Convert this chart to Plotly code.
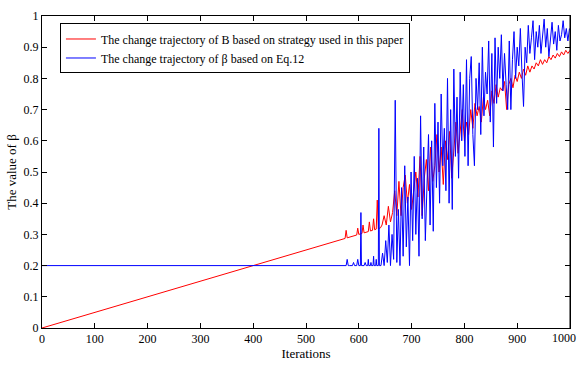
import plotly.graph_objects as go

# Red series: straight early part (endpoints + spikes), then noisy part every 4 iterations
red_x_early = [0, 574, 576, 578, 596, 598, 600, 606, 608, 610, 618, 620, 622, 626, 628, 630, 633, 635, 637, 641]
red_y_early = [0, 0.287, 0.313, 0.289, 0.298, 0.32, 0.30, 0.303, 0.33, 0.305, 0.309, 0.34, 0.311,
               0.313, 0.35, 0.315, 0.317, 0.41, 0.318, 0.321]
red_start, red_step = 644, 4
red_y_noisy = [
    0.33, 0.36, 0.33, 0.39, 0.34, 0.37, 0.44, 0.36, 0.47, 0.36,
    0.45, 0.49, 0.40, 0.46, 0.38, 0.44, 0.50, 0.42, 0.55, 0.36,
    0.48, 0.54, 0.44, 0.58, 0.47, 0.52, 0.62, 0.50, 0.58, 0.46,
    0.60, 0.54, 0.63, 0.48, 0.58, 0.66, 0.56, 0.62, 0.70, 0.60,
    0.66, 0.62, 0.70, 0.64, 0.72, 0.68, 0.71, 0.66, 0.74, 0.70,
    0.73, 0.68, 0.76, 0.72, 0.78, 0.74, 0.77, 0.76, 0.79, 0.70,
    0.78, 0.80, 0.77, 0.81, 0.79, 0.82, 0.80, 0.83, 0.81, 0.84,
    0.82, 0.84, 0.83, 0.85, 0.84, 0.86, 0.845, 0.86, 0.85, 0.87,
    0.86, 0.875, 0.865, 0.88, 0.87, 0.885, 0.875, 0.89, 0.88, 0.89,
]

# Blue series: flat early part with spikes, then noisy part every 3 iterations
blue_x_early = [0, 576, 578, 580, 582, 588, 590, 592, 596, 598, 600, 603, 604, 605, 610, 612, 614,
                617, 618, 619, 622, 623, 624, 627, 628, 629, 632, 633, 634, 637, 638, 639, 642]
blue_y_early = [0.2, 0.2, 0.22, 0.2, 0.2, 0.2, 0.21, 0.2, 0.2, 0.22, 0.2, 0.2, 0.37, 0.2, 0.2, 0.21, 0.2,
                0.2, 0.22, 0.2, 0.2, 0.21, 0.2, 0.2, 0.23, 0.2, 0.2, 0.22, 0.2, 0.2, 0.64, 0.2, 0.2]
blue_start, blue_step = 645, 3
blue_y_noisy = [
    0.24, 0.20, 0.28, 0.21, 0.33, 0.20, 0.30, 0.22, 0.73, 0.21,
    0.38, 0.20, 0.45, 0.23, 0.52, 0.26, 0.42, 0.20, 0.50, 0.28,
    0.55, 0.30, 0.48, 0.23, 0.68, 0.35, 0.58, 0.28, 0.45, 0.62,
    0.33, 0.60, 0.31, 0.72, 0.45, 0.66, 0.40, 0.75, 0.52, 0.64,
    0.44, 0.80, 0.40, 0.70, 0.38, 0.83, 0.55, 0.74, 0.48, 0.82,
    0.60, 0.78, 0.55, 0.86, 0.52, 0.80, 0.87, 0.62, 0.52, 0.80,
    0.70, 0.85, 0.62, 0.90, 0.68, 0.82, 0.75, 0.92, 0.66, 0.88,
    0.58, 0.93, 0.72, 0.90, 0.80, 0.94, 0.76, 0.88, 0.78, 0.70,
    0.92, 0.70, 0.86, 0.95, 0.80, 0.90, 0.84, 0.96, 0.82, 0.71,
    0.90, 0.85, 0.97, 0.88, 0.93, 0.985, 0.86, 0.95, 0.90, 0.97,
    0.88, 0.94, 0.99, 0.90, 0.96, 0.87, 0.93, 0.98, 0.91, 0.95,
    0.89, 0.97, 0.92, 0.94, 0.985, 0.93, 0.96, 0.92, 0.96,
]

x_ticks = [0, 100, 200, 300, 400, 500, 600, 700, 800, 900, 1000]
x_tick_labels = ["0", "100", "200", "300", "400", "500", "600", "700", "800", "900", "1000"]
y_ticks = [0, 0.1, 0.2, 0.3, 0.4, 0.5, 0.6, 0.7, 0.8, 0.9, 1]
y_tick_labels = ["0", "0.1", "0.2", "0.3", "0.4", "0.5", "0.6", "0.7", "0.8", "0.9", "1"]

red_x = red_x_early + [red_start + red_step * i for i in range(len(red_y_noisy))]
red_y = red_y_early + red_y_noisy
blue_x = blue_x_early + [blue_start + blue_step * i for i in range(len(blue_y_noisy))]
blue_y = blue_y_early + blue_y_noisy

FONT = "Liberation Serif"

fig = go.Figure()
fig.add_trace(go.Scatter(x=red_x, y=red_y, mode="lines",
                         line=dict(color="#ff0000", width=1),
                         name="The change trajectory of B based on strategy used in this paper"))
fig.add_trace(go.Scatter(x=blue_x, y=blue_y, mode="lines",
                         line=dict(color="#0000ff", width=1),
                         name="The change trajectory of β based on Eq.12"))

axis_common = dict(showline=True, linecolor="black", linewidth=1, mirror="ticks",
                   ticks="inside", ticklen=5, tickcolor="black", showgrid=False,
                   zeroline=False, tickfont=dict(family=FONT, size=12, color="black"))

fig.update_layout(
    width=580, height=367,
    margin=dict(l=42, r=9, t=10, b=28),
    paper_bgcolor="white", plot_bgcolor="white",
    font=dict(family=FONT, size=12, color="black"),
    showlegend=True,
    legend=dict(x=0.034, y=0.976, xanchor="left", yanchor="top",
                bgcolor="white", bordercolor="black", borderwidth=1,
                font=dict(family=FONT, size=12, color="black"),
                tracegroupgap=0, itemwidth=30),
    xaxis=dict(range=[0, 1000], tickvals=x_ticks[:-1], ticktext=x_tick_labels[:-1],
               title=dict(text="Iterations", standoff=2, font=dict(family=FONT, size=13)),
               **axis_common),
    yaxis=dict(range=[0, 1], tickvals=y_ticks, ticktext=y_tick_labels,
               title=dict(text="The value of β", standoff=4, font=dict(family=FONT, size=13)),
               **axis_common),
)

# last x tick label, nudged left so it stays inside the picture
fig.add_annotation(x=x_ticks[-1], y=0, xref="x", yref="paper", text=x_tick_labels[-1],
                   showarrow=False, yanchor="top", xanchor="right", xshift=8, yshift=-1,
                   font=dict(family=FONT, size=12, color="black"))
fig.add_shape(type="line", xref="x", yref="paper", x0=x_ticks[-1], x1=x_ticks[-1], y0=0, y1=1,
              line=dict(color="black", width=1))

fig.write_html("out.html")
